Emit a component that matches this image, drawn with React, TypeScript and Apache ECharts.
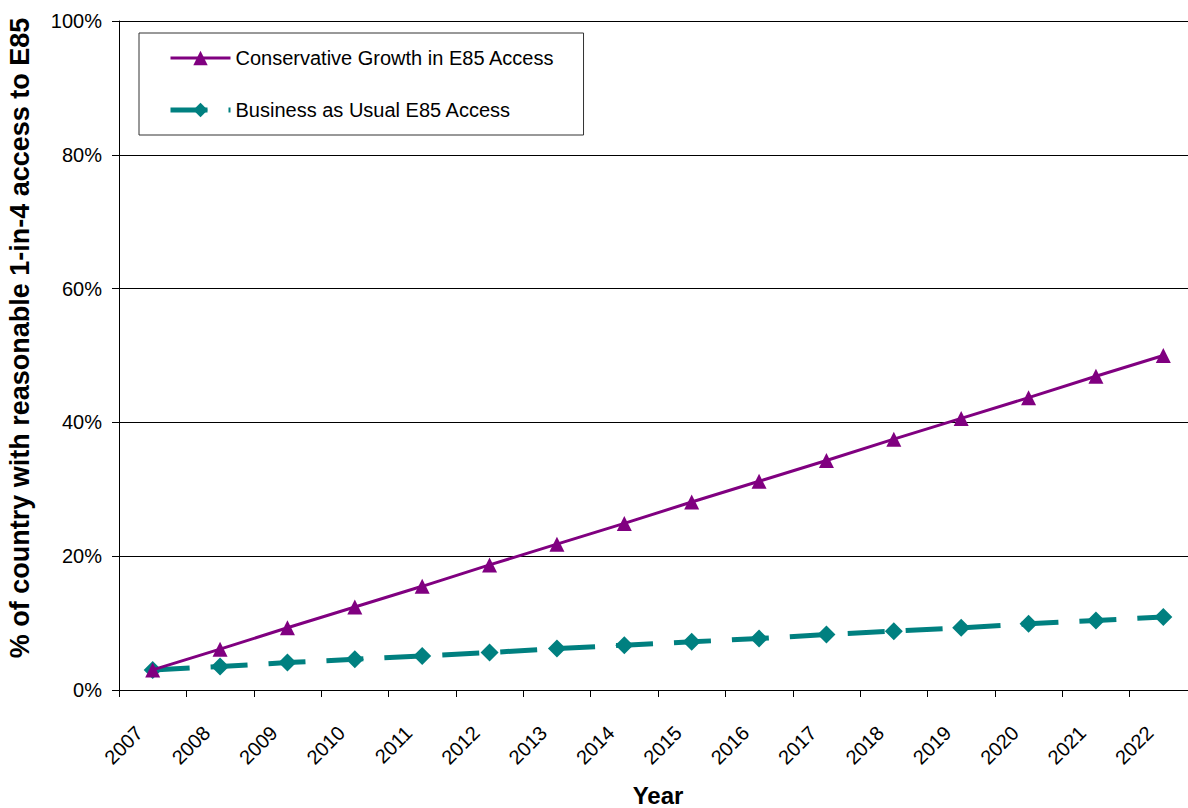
import React, { useEffect, useRef } from "react";
import * as echarts from "echarts";

const years = ["2007", "2008", "2009", "2010", "2011", "2012", "2013", "2014", "2015", "2016", "2017", "2018", "2019", "2020", "2021", "2022"];
const conservative = [3.0, 6.1, 9.3, 12.4, 15.5, 18.7, 21.8, 24.9, 28.1, 31.2, 34.3, 37.5, 40.6, 43.7, 46.9, 50.0];
const businessAsUsual = [3.0, 3.5, 4.1, 4.6, 5.1, 5.6, 6.2, 6.7, 7.2, 7.7, 8.3, 8.8, 9.3, 9.9, 10.4, 10.9];
const seriesNames = ["Conservative Growth in E85 Access", "Business as Usual E85 Access"];
const yTitle = "% of country with reasonable 1-in-4 access to E85";
const xTitle = "Year";

const FONT = "'Liberation Sans', Arial, sans-serif";

export default function App() {
  const ref = useRef<HTMLDivElement>(null);
  useEffect(() => {
    if (!ref.current) return;
    const chart = echarts.init(ref.current, undefined, { renderer: "svg" });
    chart.setOption({
      animation: false,
      backgroundColor: "#ffffff",
      textStyle: { fontFamily: FONT },
      grid: { left: 119, top: 21, width: 1078, height: 669, containLabel: false, outerBoundsMode: "none" },
      legend: {
        orient: "vertical",
        left: 139,
        top: 33,
        padding: [15, 29, 15, 29],
        itemGap: 32,
        itemWidth: 60,
        itemHeight: 18,
        borderColor: "#333333",
        borderWidth: 1,
        backgroundColor: "#ffffff",
        textStyle: { fontSize: 20, color: "#000000", fontFamily: FONT, lineHeight: 20 },
        data: [
          { name: seriesNames[0], lineStyle: { width: 3 } },
          { name: seriesNames[1], lineStyle: { width: 5 } },
        ],
      },
      xAxis: {
        type: "category",
        data: years,
        boundaryGap: true,
        name: xTitle,
        nameLocation: "middle",
        nameGap: 93,
        nameTextStyle: { fontSize: 24, fontWeight: "bold", color: "#000000", fontFamily: FONT },
        axisLine: { lineStyle: { color: "#000000", width: 1 } },
        axisTick: { show: true, length: 7, alignWithLabel: false, lineStyle: { color: "#000000" } },
        axisLabel: {
          rotate: 45,
          fontSize: 20,
          color: "#000000",
          margin: 26,
          padding: [0, 19, 0, 0],
          interval: 0,
          fontFamily: FONT,
        },
        splitLine: { show: false },
      },
      yAxis: {
        type: "value",
        min: 0,
        max: 100,
        interval: 20,
        axisLine: { show: true, lineStyle: { color: "#000000", width: 1 } },
        axisTick: { show: true, length: 7, lineStyle: { color: "#000000" } },
        axisLabel: { formatter: "{value}%", fontSize: 20, color: "#000000", margin: 17, fontFamily: FONT },
        splitLine: { show: true, lineStyle: { color: "#000000", width: 1 } },
      },
      graphic: [
        {
          type: "text",
          x: 20,
          y: 338,
          rotation: Math.PI / 2,
          style: {
            text: yTitle,
            fontSize: 27,
            fontWeight: "bold",
            fontFamily: FONT,
            fill: "#000000",
            align: "center",
            verticalAlign: "middle",
          },
        },
      ],
      series: [
        {
          name: seriesNames[0],
          type: "line",
          data: conservative,
          symbol: "triangle",
          symbolSize: 15,
          itemStyle: { color: "#800080" },
          lineStyle: { color: "#800080", width: 3 },
          z: 3,
        },
        {
          name: seriesNames[1],
          type: "line",
          data: businessAsUsual,
          symbol: "diamond",
          symbolSize: 18,
          itemStyle: { color: "#008080" },
          lineStyle: { color: "#008080", width: 5, type: [37, 21] },
          z: 2,
        },
      ],
    });
    return () => chart.dispose();
  }, []);
  return <div ref={ref} style={{ width: 1188, height: 808, position: "absolute", left: 0, top: 0 }} />;
}
